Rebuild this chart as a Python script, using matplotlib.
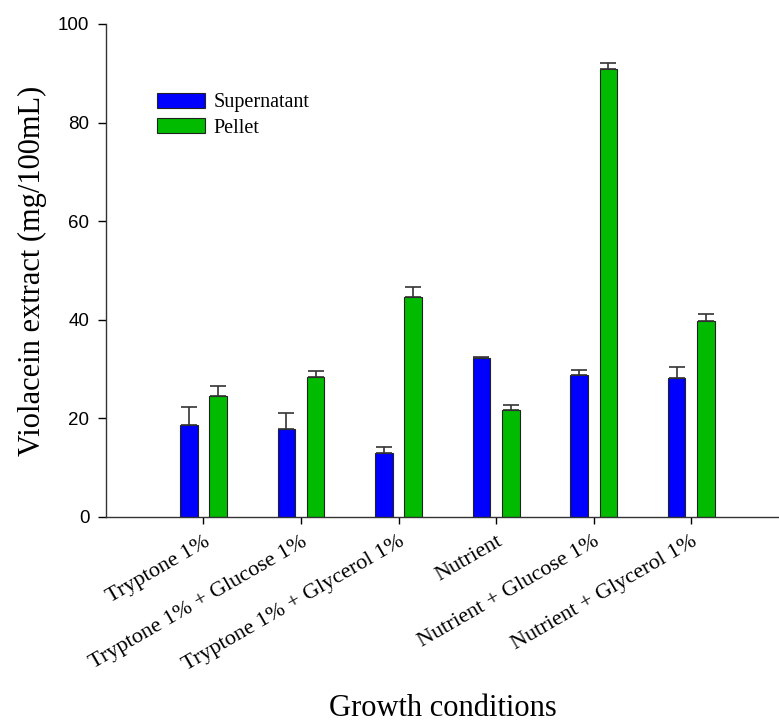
import numpy as np
import matplotlib
matplotlib.use('Agg')
import matplotlib.pyplot as plt

conditions = ['Tryptone 1%', 'Tryptone 1% + Glucose 1%', 'Tryptone 1% + Glycerol 1%',
              'Nutrient', 'Nutrient + Glucose 1%', 'Nutrient + Glycerol 1%']
supernatant = [18.7, 17.9, 13.0, 32.2, 28.7, 28.1]
supernatant_err = [3.5, 3.1, 1.2, 0.3, 1.1, 2.4]
pellet = [24.6, 28.3, 44.6, 21.7, 90.9, 39.8]
pellet_err = [2.0, 1.2, 2.0, 1.1, 1.1, 1.3]

serif = ['Liberation Serif', 'DejaVu Serif']
sans = ['Liberation Sans', 'DejaVu Sans']

fig = plt.figure(figsize=(7.79, 7.26), dpi=100)
ax = fig.add_axes([0.136, 0.288, 0.864, 0.679])

x = np.arange(1, len(conditions) + 1)
w = 0.18
ekw = dict(ecolor='#333333', elinewidth=1.2, capthick=1.2)
ax.bar(x - 0.15, supernatant, w, color='#0000ff', edgecolor='#222222', linewidth=0.8,
       yerr=[np.zeros(6), supernatant_err], capsize=5.5, error_kw=ekw, label='Supernatant')
ax.bar(x + 0.15, pellet, w, color='#00bb00', edgecolor='#222222', linewidth=0.8,
       yerr=[np.zeros(6), pellet_err], capsize=5.5, error_kw=ekw, label='Pellet')

ax.set_xlim(0, 6.9)
ax.set_ylim(0, 100)
ax.set_yticks([0, 20, 40, 60, 80, 100])
for s in ['top', 'right']:
    ax.spines[s].set_visible(False)
for s in ['left', 'bottom']:
    ax.spines[s].set_linewidth(1.0)
    ax.spines[s].set_color('#333333')
ax.tick_params(axis='y', direction='out', length=6, width=1, labelsize=13.5, pad=6)
ax.tick_params(axis='x', direction='out', length=5, width=1, pad=6)
for t in ax.get_yticklabels():
    t.set_family(sans)

ax.set_xticks(x)
ax.set_xticklabels(conditions, rotation=30, ha='right', rotation_mode='anchor',
                   family=serif, fontsize=16)

ax.set_ylabel('Violacein extract (mg/100mL)', family=serif, fontsize=22, labelpad=8)
fig.text(0.569, 0.014, 'Growth conditions', family=serif, fontsize=22, ha='center')

ax.legend(loc='upper left', bbox_to_anchor=(0.076, 0.86), frameon=False,
          prop={'family': serif, 'size': 14.5}, handlelength=2.4, handleheight=0.75,
          labelspacing=0.3, handletextpad=0.4, borderpad=0, borderaxespad=0)

fig.savefig('out.png', dpi=100)
